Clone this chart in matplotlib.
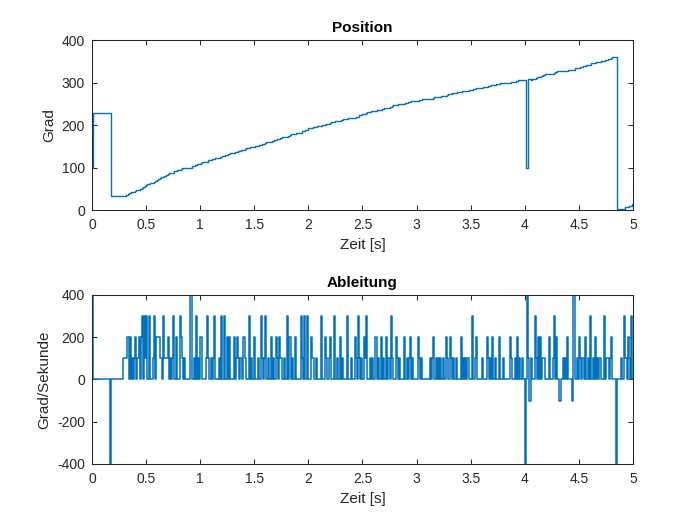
import numpy as np
import matplotlib
matplotlib.use("Agg")
import matplotlib.pyplot as plt

# ---- data ----
dt = 0.01                      # sample time [s]
t = np.round(np.arange(0, 501) * dt, 2)
p_start = 100                  # first position sample [Grad]
# absolute values the position jumps to at the 'x' marks (in order)
jump_to = [228, 33, 100, 308, 2]
# per-sample position increments [Grad], one string per 0.1 s
# digits = +n Grad, 'n' = -1 Grad, 'x' = jump (see jump_to)
steps = [
    "x000000000", "0000000x00", "0000000001", "1122020101", "2012023031",
    "3003001302", "2221103111", "2010130020", "0321010000", "0400103010",
    "2200013100", "1013000103", "0030020200", "0201210110", "2100030100",
    "2001003101", "3001020100", "2102110100", "3022010020", "0003103003",
    "0021100100", "0030021001", "2000301002", "0100003001", "0002103101",
    "0213000101", "0020100201", "0020103100", "0210100020", "0101201000",
    "0210100000", "0010120010", "1010100210", "0210101000", "0201010100",
    "0300120000", "1000021010", "2010002000", "1000002100", "0102010100",
    "x0x1nn1003", "1020201110", "0020001302", "00n0010102", "0000n40010",
    "2101102010", "3001020101", "0003011101", "2000x00001", "0031021030",
]
x_ticks = [0, 0.5, 1, 1.5, 2, 2.5, 3, 3.5, 4, 4.5, 5]
x_ticklabels = ["0", "0.5", "1", "1.5", "2", "2.5", "3", "3.5", "4", "4.5", "5"]
y1_ticks = [0, 100, 200, 300, 400]
y2_ticks = [-400, -200, 0, 200, 400]

# ---- rebuild position samples ----
pos = [p_start]
jumps = iter(jump_to)
for c in "".join(steps):
    if c == "x":
        pos.append(next(jumps))
    elif c == "n":
        pos.append(pos[-1] - 1)
    else:
        pos.append(pos[-1] + int(c))
pos = np.array(pos, dtype=float)
deriv = np.diff(pos) / dt

# ---- style ----
plt.rcParams["font.family"] = ["Liberation Sans", "DejaVu Sans"]
plt.rcParams["axes.unicode_minus"] = False
blue = "#0072BD"
dark = "#262626"

fig = plt.figure(figsize=(7, 5.25), dpi=100)
ax1 = fig.add_axes([0.1314, 0.6, 0.7729, 0.3238])
ax2 = fig.add_axes([0.1314, 0.1162, 0.7729, 0.3219])

ax1.step(t, pos, where="post", color=blue, lw=1.0)
ax2.step(t, np.append(deriv, deriv[-1]), where="post", color=blue, lw=1.1)

for ax, yt, title, ylab, ylim in [
    (ax1, y1_ticks, "Position", "Grad", (0, 400)),
    (ax2, y2_ticks, "Ableitung", "Grad/Sekunde", (-400, 400)),
]:
    ax.set_xlim(0, 5)
    ax.set_ylim(*ylim)
    ax.set_xticks(x_ticks)
    ax.set_xticklabels(x_ticklabels)
    ax.set_yticks(yt)
    ax.tick_params(direction="in", top=True, right=True, length=3.5,
                   width=0.75, colors=dark, labelsize=10)
    ax.tick_params(axis="x", pad=6)
    ax.tick_params(axis="y", pad=5)
    for s in ax.spines.values():
        s.set_color(dark)
        s.set_linewidth(0.75)
    ax.set_title(title, fontsize=11, fontweight="bold", color="black")
    ax.set_xlabel("Zeit [s]", fontsize=11, color=dark)
    ax.set_ylabel(ylab, fontsize=11, color=dark)

fig.savefig("out.png", dpi=100)
